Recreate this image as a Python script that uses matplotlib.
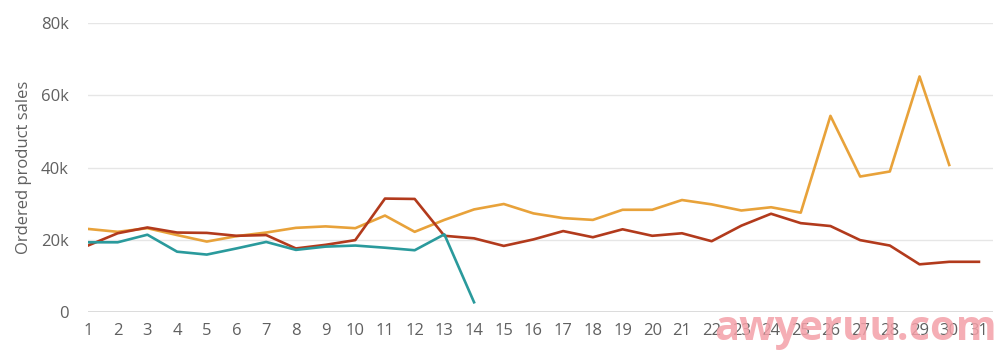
import matplotlib
matplotlib.use("Agg")
import matplotlib.pyplot as plt
from matplotlib.ticker import FuncFormatter

plt.rcParams['font.family'] = ['Open Sans', 'DejaVu Sans']

days = list(range(1, 32))

# значения по дням (тыс.)
orange = [23.0, 22.2, 23.2, 21.3, 19.5, 21.0, 22.0, 23.3, 23.7, 23.2,
          26.7, 22.2, 25.5, 28.4, 29.9, 27.3, 26.0, 25.5, 28.3, 28.3,
          31.0, 29.8, 28.1, 29.0, 27.5, 54.3, 37.5, 38.9, 65.2, 40.7]
red = [18.4, 21.8, 23.4, 22.0, 21.9, 21.1, 21.3, 17.6, 18.6, 19.9,
       31.4, 31.3, 21.1, 20.4, 18.3, 20.1, 22.4, 20.7, 22.9, 21.1,
       21.8, 19.6, 23.9, 27.2, 24.6, 23.8, 19.9, 18.4, 13.2, 13.9, 13.9]
teal = [19.3, 19.3, 21.4, 16.7, 15.9, 17.6, 19.4, 17.2, 18.1, 18.4,
        17.8, 17.1, 21.5, 2.7]

y_ticks = [0, 20000, 40000, 60000, 80000]

fig = plt.figure(figsize=(10.01, 3.54), dpi=100)
ax = fig.add_axes([0.0879, 0.1186, 0.904, 0.8164])

ax.plot(days[:len(orange)], [v * 1000 for v in orange], color='#E8A23A', lw=1.9, zorder=3)
ax.plot(days[:len(red)], [v * 1000 for v in red], color='#B23A1C', lw=1.9, zorder=4)
ax.plot(days[:len(teal)], [v * 1000 for v in teal], color='#2A9A9C', lw=1.9, zorder=5)

ax.set_xlim(1, 31.47)
ax.set_ylim(0, 80000)
ax.set_yticks(y_ticks)
ax.yaxis.set_major_formatter(FuncFormatter(lambda v, p: '0' if v == 0 else f'{int(v / 1000)}k'))
ax.set_xticks(days)
ax.grid(axis='y', color='#E6E6E6', lw=1)
ax.axhline(0, color='#D6D6D6', lw=1.2, zorder=1)
ax.set_axisbelow(True)
for s in ax.spines.values():
    s.set_visible(False)
ax.tick_params(length=0, colors='#606060', labelsize=12)
ax.tick_params(axis='y', pad=14)
ax.tick_params(axis='x', pad=8)
ax.set_ylabel('Ordered product sales', color='#606060', fontsize=12, labelpad=6)

# водяной знак
fig.text(0.855, 0.01, 'awyeruu.com', color='#F4A0A8', fontsize=30, fontweight='bold',
         ha='center', va='bottom', alpha=0.85, zorder=10)

fig.savefig('out.png', dpi=100, facecolor='white')
